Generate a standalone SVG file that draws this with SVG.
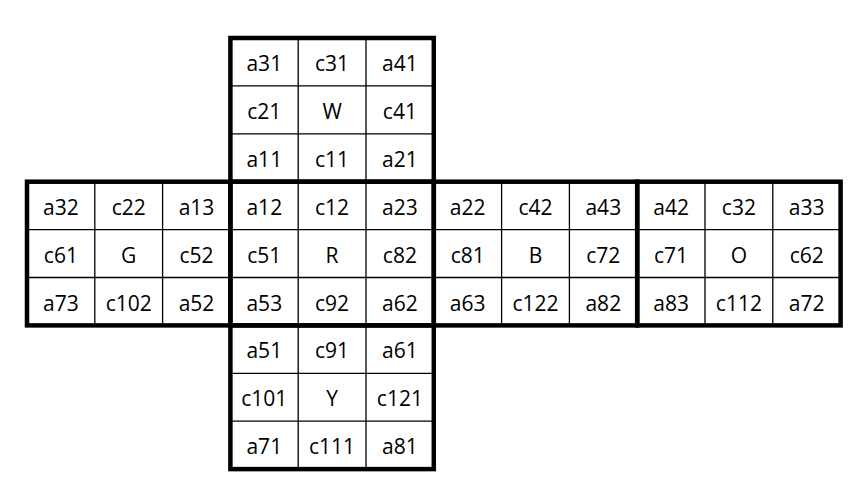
<svg xmlns="http://www.w3.org/2000/svg" width="866" height="502" viewBox="0 0 866 502">
<style>
.thin{stroke:#000;stroke-width:1.3;fill:none}
.thick{stroke:#000;stroke-width:4.5;fill:none}
text{font-family:"Open Sans","Liberation Sans",sans-serif;font-size:21px;fill:#000;text-anchor:middle}
</style>
<rect width="866" height="502" fill="#fff"/>
<g id="face-W">
<path class="thin" d="M298.2 38V181.7M366 38V181.7M230.4 85.9H433.8M230.4 133.8H433.8"/>
<rect class="thick" x="230.4" y="38" width="203.4" height="143.7"/>
<text x="264.3" y="71">a31</text><text x="332.1" y="71">c31</text><text x="399.9" y="71">a41</text>
<text x="264.3" y="118.9">c21</text><text x="332.1" y="118.9">W</text><text x="399.9" y="118.9">c41</text>
<text x="264.3" y="166.8">a11</text><text x="332.1" y="166.8">c11</text><text x="399.9" y="166.8">a21</text>
</g>
<g id="face-G">
<path class="thin" d="M94.8 181.7V325.4M162.6 181.7V325.4M27 229.6H230.4M27 277.5H230.4"/>
<rect class="thick" x="27" y="181.7" width="203.4" height="143.7"/>
<text x="60.9" y="214.7">a32</text><text x="128.7" y="214.7">c22</text><text x="196.5" y="214.7">a13</text>
<text x="60.9" y="262.6">c61</text><text x="128.7" y="262.6">G</text><text x="196.5" y="262.6">c52</text>
<text x="60.9" y="310.5">a73</text><text x="128.7" y="310.5">c102</text><text x="196.5" y="310.5">a52</text>
</g>
<g id="face-R">
<path class="thin" d="M298.2 181.7V325.4M366 181.7V325.4M230.4 229.6H433.8M230.4 277.5H433.8"/>
<rect class="thick" x="230.4" y="181.7" width="203.4" height="143.7"/>
<text x="264.3" y="214.7">a12</text><text x="332.1" y="214.7">c12</text><text x="399.9" y="214.7">a23</text>
<text x="264.3" y="262.6">c51</text><text x="332.1" y="262.6">R</text><text x="399.9" y="262.6">c82</text>
<text x="264.3" y="310.5">a53</text><text x="332.1" y="310.5">c92</text><text x="399.9" y="310.5">a62</text>
</g>
<g id="face-B">
<path class="thin" d="M501.6 181.7V325.4M569.4 181.7V325.4M433.8 229.6H637.2M433.8 277.5H637.2"/>
<rect class="thick" x="433.8" y="181.7" width="203.4" height="143.7"/>
<text x="467.7" y="214.7">a22</text><text x="535.5" y="214.7">c42</text><text x="603.3" y="214.7">a43</text>
<text x="467.7" y="262.6">c81</text><text x="535.5" y="262.6">B</text><text x="603.3" y="262.6">c72</text>
<text x="467.7" y="310.5">a63</text><text x="535.5" y="310.5">c122</text><text x="603.3" y="310.5">a82</text>
</g>
<g id="face-O">
<path class="thin" d="M705 181.7V325.4M772.8 181.7V325.4M637.2 229.6H840.6M637.2 277.5H840.6"/>
<rect class="thick" x="637.2" y="181.7" width="203.4" height="143.7"/>
<text x="671.1" y="214.7">a42</text><text x="738.9" y="214.7">c32</text><text x="806.7" y="214.7">a33</text>
<text x="671.1" y="262.6">c71</text><text x="738.9" y="262.6">O</text><text x="806.7" y="262.6">c62</text>
<text x="671.1" y="310.5">a83</text><text x="738.9" y="310.5">c112</text><text x="806.7" y="310.5">a72</text>
</g>
<g id="face-Y">
<path class="thin" d="M298.2 325.4V469.1M366 325.4V469.1M230.4 373.3H433.8M230.4 421.2H433.8"/>
<rect class="thick" x="230.4" y="325.4" width="203.4" height="143.7"/>
<text x="264.3" y="358.4">a51</text><text x="332.1" y="358.4">c91</text><text x="399.9" y="358.4">a61</text>
<text x="264.3" y="406.3">c101</text><text x="332.1" y="406.3">Y</text><text x="399.9" y="406.3">c121</text>
<text x="264.3" y="454.2">a71</text><text x="332.1" y="454.2">c111</text><text x="399.9" y="454.2">a81</text>
</g>
</svg>
